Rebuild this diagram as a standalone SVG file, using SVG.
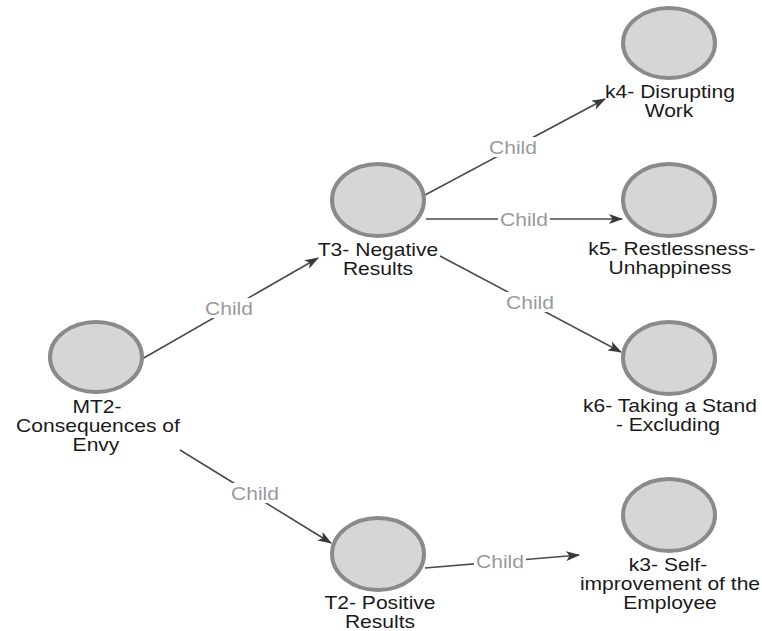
<svg xmlns="http://www.w3.org/2000/svg" width="762" height="631" viewBox="0 0 762 631">
<style>
.node ellipse{fill:#d6d6d6;stroke:#8a8a8a;stroke-width:4}
.lbl{font-family:"Liberation Sans",Arial,sans-serif;font-size:18px;fill:#1a1a1a;text-anchor:middle}
.edge line{stroke:#4a4a4a;stroke-width:1.6;marker-end:url(#arr)}
.el{font-family:"Liberation Sans",Arial,sans-serif;font-size:18px;fill:#9a9a9a;text-anchor:middle}
.bg{fill:#ffffff}
</style>
<defs>
<marker id="arr" markerUnits="userSpaceOnUse" viewBox="0 0 14 10" refX="13" refY="5" markerWidth="14" markerHeight="10" orient="auto">
<path d="M0,0 L14,5 L0,10 L3.5,5 z" fill="#3a3a3a"/>
</marker>
</defs>
<rect width="762" height="631" fill="#ffffff"/>
<g id="connectors" class="edge">
<g id="e-mt2-t3"><line x1="142" y1="359" x2="318" y2="258"/><rect class="bg" x="203" y="298" width="52" height="20"/><text class="el" transform="translate(229 314.5) scale(1.17 1)">Child</text></g>
<g id="e-t3-k4"><line x1="425" y1="195" x2="605" y2="99"/><rect class="bg" x="487" y="137" width="52" height="20"/><text class="el" transform="translate(513 153.5) scale(1.17 1)">Child</text></g>
<g id="e-t3-k5"><line x1="426" y1="219" x2="622" y2="219"/><rect class="bg" x="498" y="209" width="52" height="20"/><text class="el" transform="translate(524 225.5) scale(1.17 1)">Child</text></g>
<g id="e-t3-k6"><line x1="440" y1="256" x2="621" y2="352"/><rect class="bg" x="504" y="292" width="52" height="20"/><text class="el" transform="translate(530 308.5) scale(1.17 1)">Child</text></g>
<g id="e-mt2-t2"><line x1="180" y1="450" x2="331" y2="543"/><rect class="bg" x="229" y="483" width="52" height="20"/><text class="el" transform="translate(255 499.5) scale(1.17 1)">Child</text></g>
<g id="e-t2-k3"><line x1="425" y1="568" x2="579" y2="555"/><rect class="bg" x="474" y="551" width="52" height="20"/><text class="el" transform="translate(500 567.5) scale(1.17 1)">Child</text></g>
</g>
<g id="mt2" class="node"><ellipse cx="96" cy="357" rx="46" ry="35"/>
<text class="lbl" transform="translate(97 413) scale(1.17 1)">MT2-</text>
<text class="lbl" transform="translate(98 432) scale(1.17 1)">Consequences of</text>
<text class="lbl" transform="translate(96 451) scale(1.17 1)">Envy</text></g>
<g id="t3" class="node"><ellipse cx="378" cy="200" rx="46" ry="36"/>
<text class="lbl" transform="translate(378 256) scale(1.17 1)">T3- Negative</text>
<text class="lbl" transform="translate(378 275) scale(1.17 1)">Results</text></g>
<g id="t2" class="node"><ellipse cx="378" cy="554" rx="46" ry="36"/>
<text class="lbl" transform="translate(380 609) scale(1.17 1)">T2- Positive</text>
<text class="lbl" transform="translate(380 628) scale(1.17 1)">Results</text></g>
<g id="k4" class="node"><ellipse cx="669" cy="43" rx="46" ry="35"/>
<text class="lbl" transform="translate(670 98) scale(1.17 1)">k4- Disrupting</text>
<text class="lbl" transform="translate(669 117) scale(1.17 1)">Work</text></g>
<g id="k5" class="node"><ellipse cx="669" cy="200" rx="46" ry="36"/>
<text class="lbl" transform="translate(672 255) scale(1.17 1)">k5- Restlessness-</text>
<text class="lbl" transform="translate(670 274) scale(1.17 1)">Unhappiness</text></g>
<g id="k6" class="node"><ellipse cx="669" cy="358" rx="46" ry="36"/>
<text class="lbl" transform="translate(670 412) scale(1.17 1)">k6- Taking a Stand</text>
<text class="lbl" transform="translate(668 431) scale(1.17 1)">- Excluding</text></g>
<g id="k3" class="node"><ellipse cx="669" cy="515" rx="46" ry="36"/>
<text class="lbl" transform="translate(668 571) scale(1.17 1)">k3- Self-</text>
<text class="lbl" transform="translate(670 590) scale(1.17 1)">improvement of the</text>
<text class="lbl" transform="translate(670 609) scale(1.17 1)">Employee</text></g>
</svg>
